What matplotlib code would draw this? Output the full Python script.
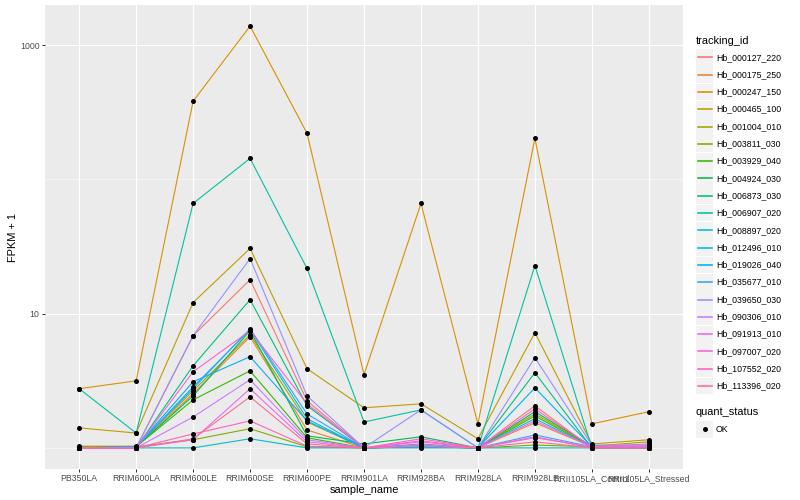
import numpy as np
import matplotlib
matplotlib.use("Agg")
import matplotlib.pyplot as plt
from matplotlib.ticker import FixedLocator, NullFormatter, FixedFormatter
from matplotlib.patches import Rectangle

plt.rcParams['font.family'] = ['Liberation Sans', 'DejaVu Sans']

samples = ["PB350LA", "RRIM600LA", "RRIM600LE", "RRIM600SE", "RRIM600PE",
           "RRIM901LA", "RRIM928BA", "RRIM928LA", "RRIM928LE",
           "RRII105LA_Control", "RRII105LA_Stressed"]

tracking_ids = ["Hb_000127_220", "Hb_000175_250", "Hb_000247_150", "Hb_000465_100",
                "Hb_001004_010", "Hb_003811_030", "Hb_003929_040", "Hb_004924_030",
                "Hb_006873_030", "Hb_006907_020", "Hb_008897_020", "Hb_012496_010",
                "Hb_019026_040", "Hb_035677_010", "Hb_039650_030", "Hb_090306_010",
                "Hb_091913_010", "Hb_097007_020", "Hb_107552_020", "Hb_113396_020"]

colors = ["#F8766D", "#EA8331", "#D89000", "#C09B00", "#A3A500", "#7CAE00",
          "#39B600", "#00BB4E", "#00BF7D", "#00C1A3", "#00BFC4", "#00BAE0",
          "#00B0F6", "#35A2FF", "#9590FF", "#C77CFF", "#E76BF3", "#FA62DB",
          "#FF62BC", "#FF6C91"]

# FPKM values per gene (plotted as FPKM + 1)
hb_000127_220 = [0, 0, 5.85, 16.9, 1.24, 0, 0.03, 0, 1.06, 0, 0]
hb_000175_250 = [0, 0.02, 1.53, 5.73, 0.36, 0, 0.02, 0, 0.54, 0.02, 0]
hb_000247_150 = [1.76, 2.16, 381, 1385, 219.4, 2.51, 65.2, 0.51, 201.3, 0.51, 0.86]
hb_000465_100 = [0.41, 0.29, 11.1, 29.6, 2.89, 0.99, 1.13, 0.17, 6.21, 0.07, 0.15]
hb_001004_010 = [0.03, 0.03, 1.66, 5.97, 0.56, 0, 0.02, 0, 0.79, 0.03, 0.11]
hb_003811_030 = [0.02, 0.02, 0.15, 0.39, 0.02, 0, 0.02, 0, 0.05, 0.02, 0.02]
hb_003929_040 = [0, 0.02, 1.28, 2.75, 0.19, 0, 0.03, 0, 0.73, 0.02, 0.02]
hb_004924_030 = [0, 0.02, 1.44, 6.47, 0.23, 0.07, 0.21, 0, 0.86, 0.03, 0.03]
hb_006873_030 = [0, 0, 3.09, 11.7, 1.06, 0, 0.03, 0, 2.63, 0, 0]
hb_006907_020 = [1.76, 0.29, 65.2, 142.4, 20.7, 0.56, 0.92, 0, 21.8, 0, 0]
hb_008897_020 = [0, 0, 0, 0.17, 0, 0, 0, 0, 0, 0, 0]
hb_012496_010 = [0, 0.02, 1.85, 6.60, 0.65, 0, 0.02, 0, 0.65, 0.02, 0.02]
hb_019026_040 = [0, 0.02, 2.11, 3.78, 0.59, 0, 0.03, 0, 1.80, 0.02, 0.02]
hb_035677_010 = [0, 0.02, 1.76, 6.73, 0.79, 0, 0.07, 0, 0.25, 0.02, 0.03]
hb_039650_030 = [0, 0, 5.85, 24.7, 1.44, 0, 0.92, 0, 3.70, 0.05, 0.05]
hb_090306_010 = [0, 0, 0.70, 2.22, 0.15, 0, 0.03, 0, 0.19, 0.02, 0.02]
hb_091913_010 = [0, 0, 0.15, 1.76, 0.11, 0, 0.11, 0, 0.59, 0.02, 0.02]
hb_097007_020 = [0, 0, 2.69, 6.47, 1.13, 0, 0.17, 0, 0.95, 0.02, 0.07]
hb_107552_020 = [0, 0, 0.27, 0.59, 0.03, 0, 0.13, 0, 0.21, 0, 0]
hb_113396_020 = [0, 0, 0.17, 1.40, 0.07, 0, 0.05, 0, 0.11, 0, 0]

series = [hb_000127_220, hb_000175_250, hb_000247_150, hb_000465_100, hb_001004_010,
          hb_003811_030, hb_003929_040, hb_004924_030, hb_006873_030, hb_006907_020,
          hb_008897_020, hb_012496_010, hb_019026_040, hb_035677_010, hb_039650_030,
          hb_090306_010, hb_091913_010, hb_097007_020, hb_107552_020, hb_113396_020]

W, H, DPI = 800, 500, 100
PT = 72.0 / DPI  # points per pixel

fig = plt.figure(figsize=(W / DPI, H / DPI), dpi=DPI)
ax = fig.add_axes([45 / W, 31 / H, 638 / W, 464 / H])
ax.set_facecolor("#EBEBEB")
for s in ax.spines.values():
    s.set_visible(False)

x = np.arange(len(samples))
allv = []
for vals, c in zip(series, colors):
    y = np.array(vals) + 1
    allv.extend(y)
    ax.plot(x, y, color=c, lw=1.1 * PT, zorder=2, solid_capstyle="butt")
for vals in series:
    ax.scatter(x, np.array(vals) + 1, s=(5.0 * PT) ** 2, color="black", zorder=3,
               linewidths=0)

ax.set_yscale("log")
lo, hi = np.log10(min(allv)), np.log10(max(allv))
pad = 0.05 * (hi - lo)
ax.set_ylim(10 ** (lo - pad), 10 ** (hi + pad))
ax.set_xlim(-0.6, len(samples) - 0.4)

ax.yaxis.set_major_locator(FixedLocator([10, 1000]))
ax.yaxis.set_major_formatter(FixedFormatter(["10", "1000"]))
ax.yaxis.set_minor_locator(FixedLocator([1, 100]))
ax.yaxis.set_minor_formatter(NullFormatter())
ax.set_xticks(x)
ax.set_xticklabels(samples)

ax.grid(which="major", color="white", lw=1.1 * PT, zorder=0)
ax.grid(which="minor", axis="y", color="white", lw=0.55 * PT, zorder=0)
ax.set_axisbelow(True)

ax.tick_params(which="major", length=3.2 * PT, width=1.0 * PT, color="#333333",
               labelcolor="#4D4D4D", labelsize=8.8 * PT, pad=2.2 * PT)
ax.tick_params(which="minor", length=0)

ax.set_xlabel("sample_name", fontsize=11 * PT, labelpad=1.0)
ax.set_ylabel("FPKM + 1", fontsize=11 * PT, labelpad=1.5)

# legend drawn in pixel coordinates
lg = fig.add_axes([0, 0, 1, 1], facecolor="none")
lg.set_xlim(0, W)
lg.set_ylim(H, 0)
lg.axis("off")

lab_fs = 8.8 * PT
tit_fs = 11 * PT
lg.text(696, 40.5, "tracking_id", fontsize=tit_fs, va="center", ha="left")
for i, (tid, c) in enumerate(zip(tracking_ids, colors)):
    yc = 57.3 + 17.3 * i
    lg.add_patch(Rectangle((696, yc - 8.4), 17, 16.8, facecolor="#F2F2F2", edgecolor="none"))
    lg.plot([697.5, 711.5], [yc, yc], color=c, lw=1.6 * PT)
    lg.text(716, yc, tid, fontsize=lab_fs, va="center", ha="left")

lg.text(696, 412, "quant_status", fontsize=tit_fs, va="center", ha="left")
lg.add_patch(Rectangle((696, 429.3 - 8.4), 17, 16.8, facecolor="#F2F2F2", edgecolor="none"))
lg.scatter([704.6], [429.3], s=(5.0 * PT) ** 2, color="black", linewidths=0)
lg.text(716, 429.3, "OK", fontsize=lab_fs, va="center", ha="left")

fig.savefig("out.png", dpi=DPI)
